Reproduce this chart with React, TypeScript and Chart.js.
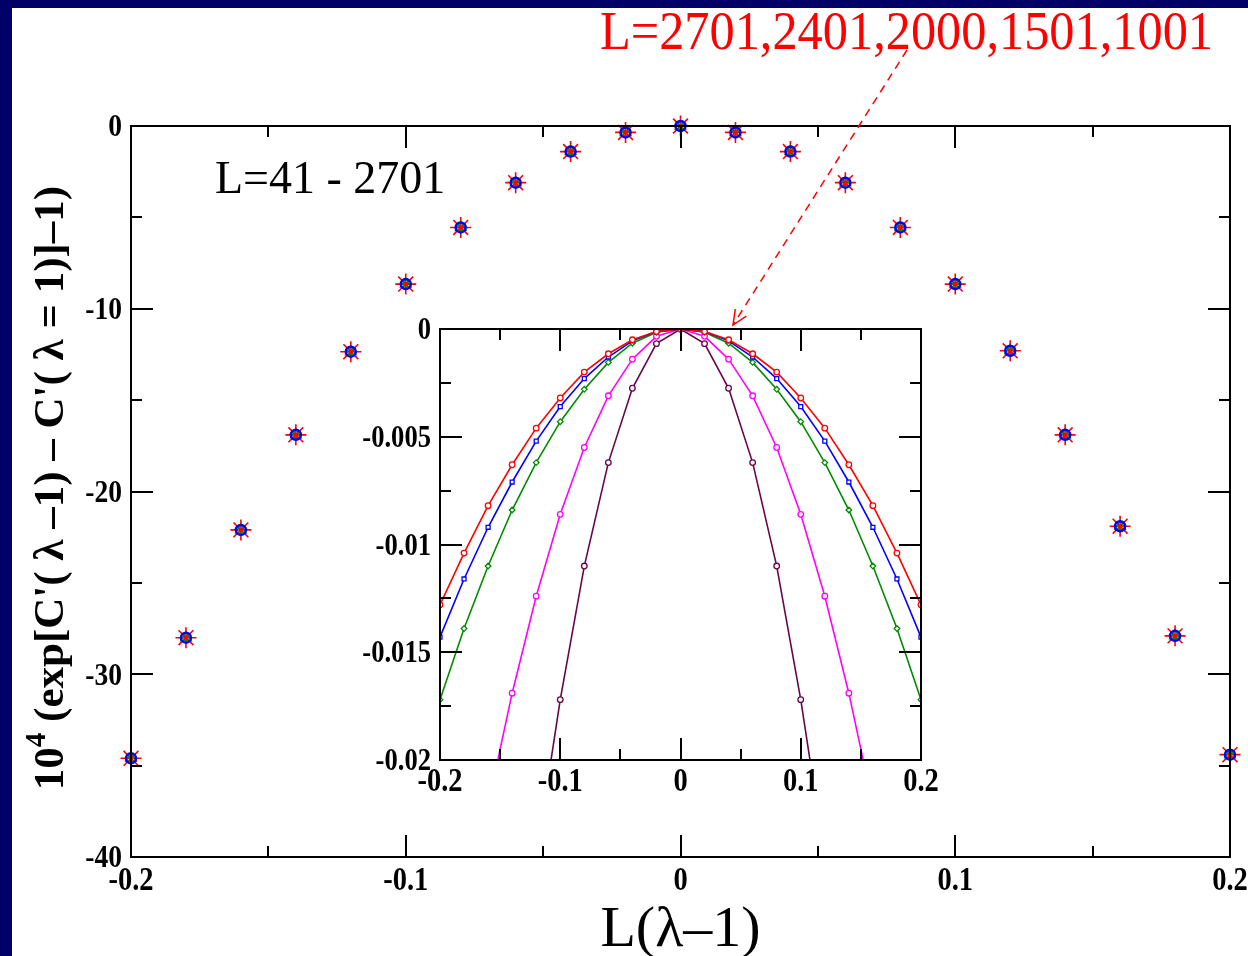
import React, { useEffect, useRef } from "react";
import { Chart, registerables } from "chart.js";

Chart.register(...registerables);

// Scaled coordinate L(lambda - 1), shared by the main plot and the inset
const scaledShift = [
  -0.2, -0.18, -0.16, -0.14, -0.12, -0.1, -0.08, -0.06, -0.04, -0.02, 0,
  0.02, 0.04, 0.06, 0.08, 0.1, 0.12, 0.14, 0.16, 0.18, 0.2,
];

// Main plot: 10^4 (exp[C'(lambda-1) - C'(lambda=1)] - 1), all sizes collapse
const collapsedValues = [
  -34.6, -28.0, -22.1, -16.9, -12.35, -8.65, -5.55, -3.1, -1.4, -0.35, 0,
  -0.35, -1.4, -3.1, -5.55, -8.65, -12.3, -16.9, -21.9, -27.9, -34.4,
];

// Inset: unscaled curves for the five largest sizes
const insetL2701 = [
  -0.0128, -0.0104, -0.0082, -0.0063, -0.0046, -0.0032, -0.002, -0.00115, -0.0005, -0.00012, 0,
  -0.00012, -0.0005, -0.00115, -0.002, -0.0032, -0.0046, -0.0063, -0.0082, -0.0104, -0.0128,
];
const insetL2401 = [
  -0.0143, -0.0116, -0.0092, -0.0071, -0.0052, -0.0036, -0.0023, -0.0013, -0.00055, -0.00012, 0,
  -0.00012, -0.00055, -0.0013, -0.0023, -0.0036, -0.0052, -0.0071, -0.0092, -0.0116, -0.0143,
];
const insetL2000 = [
  -0.0172, -0.0139, -0.011, -0.0084, -0.0062, -0.0043, -0.0028, -0.00155, -0.00066, -0.00015, 0,
  -0.00015, -0.00066, -0.00155, -0.0028, -0.0043, -0.0062, -0.0084, -0.011, -0.0139, -0.0172,
];
const insetL1501 = [
  -0.0344, -0.0279, -0.0221, -0.0169, -0.0124, -0.0086, -0.0055, -0.0031, -0.0014, -0.00034, 0,
  -0.00034, -0.0014, -0.0031, -0.0055, -0.0086, -0.0124, -0.0169, -0.0221, -0.0279, -0.0344,
];
const insetL1001 = [
  -0.0688, -0.0557, -0.044, -0.0337, -0.0245, -0.0172, -0.011, -0.0062, -0.00275, -0.00068, 0,
  -0.00068, -0.00275, -0.0062, -0.011, -0.0172, -0.0245, -0.0337, -0.044, -0.0557, -0.0688,
];

// Tick values and labels
const xMajorTicks = [-0.2, -0.1, 0, 0.1, 0.2];
const xMinorTicks = [-0.15, -0.05, 0.05, 0.15];
const xTickLabels = ["-0.2", "-0.1", "0", "0.1", "0.2"];
const mainYMajorTicks = [0, -10, -20, -30, -40];
const mainYMinorTicks = [-5, -15, -25, -35];
const mainYTickLabels = ["0", "-10", "-20", "-30", "-40"];
const insetYMajorTicks = [0, -0.005, -0.01, -0.015, -0.02];
const insetYMinorTicks = [-0.0025, -0.0075, -0.0125, -0.0175];
const insetYTickLabels = ["0", "-0.005", "-0.01", "-0.015", "-0.02"];

const SERIF = '"Liberation Serif", "Times New Roman", serif';
const NAVY = "#000066";

const toPoints = (ys: number[]) => scaledShift.map((x, i) => ({ x, y: ys[i] }));

type FrameSpec = {
  xMajor: number[];
  xMinor: number[];
  yMajor: number[];
  yMinor: number[];
  xLabels: string[];
  yLabels: string[];
  majorLen: number;
  minorLen: number;
  xFont: string;
  yFont: string;
  xLabelY: number;
  yLabelGap: number;
};

// text drawn with a vertical stretch, as the plotting program's glyphs are taller than wide
function tallText(ctx: any, text: string, x: number, y: number, sx: number, sy: number) {
  ctx.save();
  ctx.translate(x, y);
  ctx.scale(sx, sy);
  ctx.fillText(text, 0, 0);
  ctx.restore();
}

function drawFrame(chart: any, spec: FrameSpec) {
  const { ctx, chartArea: a } = chart;
  const xs = chart.scales.x;
  const ys = chart.scales.y;
  ctx.save();
  ctx.strokeStyle = "#000";
  ctx.lineWidth = 2;
  ctx.beginPath();
  const vTick = (v: number, len: number) => {
    const p = Math.round(xs.getPixelForValue(v));
    ctx.moveTo(p, a.bottom);
    ctx.lineTo(p, a.bottom - len);
    ctx.moveTo(p, a.top);
    ctx.lineTo(p, a.top + len);
  };
  const hTick = (v: number, len: number) => {
    const p = Math.round(ys.getPixelForValue(v));
    ctx.moveTo(a.left, p);
    ctx.lineTo(a.left + len, p);
    ctx.moveTo(a.right, p);
    ctx.lineTo(a.right - len, p);
  };
  spec.xMajor.forEach((v) => vTick(v, spec.majorLen));
  spec.xMinor.forEach((v) => vTick(v, spec.minorLen));
  spec.yMajor.forEach((v) => hTick(v, spec.majorLen));
  spec.yMinor.forEach((v) => hTick(v, spec.minorLen));
  ctx.stroke();
  ctx.strokeRect(a.left, a.top, a.right - a.left, a.bottom - a.top);

  ctx.fillStyle = "#000";
  ctx.font = spec.xFont;
  ctx.textAlign = "center";
  ctx.textBaseline = "alphabetic";
  spec.xMajor.forEach((v, i) => {
    tallText(ctx, spec.xLabels[i], xs.getPixelForValue(v), a.bottom + spec.xLabelY, 0.95, 1.12);
  });
  ctx.font = spec.yFont;
  ctx.textAlign = "right";
  ctx.textBaseline = "middle";
  spec.yMajor.forEach((v, i) => {
    tallText(ctx, spec.yLabels[i], a.left - spec.yLabelGap, ys.getPixelForValue(v) + 2, 0.95, 1.12);
  });
  ctx.restore();
}

const mainDecor = {
  id: "mainDecor",
  beforeDraw(chart: any) {
    const { ctx, width, height } = chart;
    ctx.save();
    ctx.fillStyle = NAVY;
    ctx.fillRect(0, 0, width, height);
    ctx.fillStyle = "#fff";
    ctx.fillRect(12, 8, width - 12, height - 8);
    ctx.restore();
  },
  afterDatasetsDraw(chart: any) {
    const { ctx, chartArea: a } = chart;
    drawFrame(chart, {
      xMajor: xMajorTicks,
      xMinor: xMinorTicks,
      yMajor: mainYMajorTicks,
      yMinor: mainYMinorTicks,
      xLabels: xTickLabels,
      yLabels: mainYTickLabels,
      majorLen: 22,
      minorLen: 11,
      xFont: `bold 30px ${SERIF}`,
      yFont: `bold 29px ${SERIF}`,
      xLabelY: 33,
      yLabelGap: 9,
    });

    ctx.save();
    // axis titles
    ctx.fillStyle = "#000";
    ctx.font = `58px ${SERIF}`;
    ctx.textAlign = "center";
    ctx.textBaseline = "alphabetic";
    ctx.fillText("L(\u03bb\u20131)", (a.left + a.right) / 2, 946);

    ctx.save();
    ctx.translate(63, 488);
    ctx.rotate(-Math.PI / 2);
    const big = `bold 43px ${SERIF}`;
    const sup = `bold 29px ${SERIF}`;
    const rest = " (exp[C'( \u03bb \u20131) \u2013 C'( \u03bb = 1)]\u20131)";
    ctx.font = big;
    const w10 = ctx.measureText("10").width;
    const wRest = ctx.measureText(rest).width;
    ctx.font = sup;
    const w4 = ctx.measureText("4").width;
    const total = w10 + w4 + wRest;
    let x = -total / 2;
    ctx.textAlign = "left";
    ctx.font = big;
    ctx.fillText("10", x, 0);
    x += w10;
    ctx.font = sup;
    ctx.fillText("4", x, -18);
    x += w4;
    ctx.font = big;
    ctx.fillText(rest, x, 0);
    ctx.restore();

    // size range annotation
    ctx.textAlign = "left";
    ctx.font = `46px ${SERIF}`;
    ctx.fillText("L=41 - 2701", 215, 193);

    // label for the inset curves, with a dashed pointer
    ctx.fillStyle = "#ff0000";
    ctx.font = `54px ${SERIF}`;
    const label = "L=2701,2401,2000,1501,1001";
    const lw = ctx.measureText(label).width;
    tallText(ctx, label, 600, 49, 613 / lw, 1.0);

    const x0 = 907, y0 = 50, x1 = 733, y1 = 325;
    ctx.strokeStyle = "#ff0000";
    ctx.lineWidth = 1.5;
    ctx.setLineDash([8, 6]);
    ctx.beginPath();
    ctx.moveTo(x0, y0);
    ctx.lineTo(x1, y1);
    ctx.stroke();
    ctx.setLineDash([]);
    const ang = Math.atan2(y1 - y0, x1 - x0);
    const head = 16;
    const spread = 0.42;
    ctx.beginPath();
    ctx.moveTo(x1 - head * Math.cos(ang - spread), y1 - head * Math.sin(ang - spread));
    ctx.lineTo(x1, y1);
    ctx.lineTo(x1 - head * Math.cos(ang + spread), y1 - head * Math.sin(ang + spread));
    ctx.stroke();
    ctx.restore();
  },
};

const insetDecor = {
  id: "insetDecor",
  beforeDraw(chart: any) {
    const { ctx, chartArea: a } = chart;
    ctx.save();
    ctx.fillStyle = "#fff";
    ctx.fillRect(a.left, a.top, a.right - a.left, a.bottom - a.top);
    ctx.restore();
  },
  afterDatasetsDraw(chart: any) {
    drawFrame(chart, {
      xMajor: xMajorTicks,
      xMinor: xMinorTicks,
      yMajor: insetYMajorTicks,
      yMinor: insetYMinorTicks,
      xLabels: xTickLabels,
      yLabels: insetYTickLabels,
      majorLen: 22,
      minorLen: 11,
      xFont: `bold 30px ${SERIF}`,
      yFont: `bold 28px ${SERIF}`,
      xLabelY: 31,
      yLabelGap: 9,
    });
  },
};

export default function App() {
  const mainRef = useRef<HTMLCanvasElement>(null);
  const insetRef = useRef<HTMLCanvasElement>(null);

  useEffect(() => {
    const mainPts = toPoints(collapsedValues);
    const main = new Chart(mainRef.current as HTMLCanvasElement, {
      type: "scatter",
      data: {
        datasets: [
          {
            data: mainPts,
            pointStyle: "rect",
            pointRadius: 2,
            borderWidth: 1,
            borderColor: "#ff0000",
            backgroundColor: "#ff0000",
            order: 0,
            clip: false,
          },
          {
            data: mainPts,
            pointStyle: "circle",
            pointRadius: 5,
            borderWidth: 2.5,
            borderColor: "#0000ff",
            backgroundColor: "rgba(0,0,0,0)",
            order: 1,
            clip: false,
          },
          {
            data: mainPts,
            pointStyle: "triangle",
            pointRadius: 6,
            borderWidth: 1.5,
            borderColor: "#008b00",
            backgroundColor: "rgba(0,0,0,0)",
            order: 2,
            clip: false,
          },
          {
            data: mainPts,
            pointStyle: "star",
            pointRadius: 10.5,
            borderWidth: 1.6,
            borderColor: "#ff0000",
            backgroundColor: "rgba(0,0,0,0)",
            order: 3,
            clip: false,
          },
        ] as any,
      },
      options: {
        animation: false,
        responsive: false,
        events: [],
        layout: { padding: { left: 131, top: 126, right: 18, bottom: 99 } },
        plugins: { legend: { display: false }, tooltip: { enabled: false } },
        scales: {
          x: { type: "linear", min: -0.2, max: 0.2, display: false },
          y: { type: "linear", min: -40, max: 0, display: false },
        },
      },
      plugins: [mainDecor],
    });

    const mk = (ys: number[], color: string, style: string) => ({
      data: toPoints(ys),
      showLine: true,
      borderColor: color,
      borderWidth: 1.6,
      pointStyle: style,
      pointRadius: 2.8,
      pointBorderWidth: 1.3,
      pointBorderColor: color,
      pointBackgroundColor: "#ffffff",
    });

    const inset = new Chart(insetRef.current as HTMLCanvasElement, {
      type: "scatter",
      data: {
        datasets: [
          mk(insetL2701, "#ff0000", "circle"),
          mk(insetL2401, "#0000ff", "rect"),
          mk(insetL2000, "#008b00", "rectRot"),
          mk(insetL1501, "#ff00ff", "circle"),
          mk(insetL1001, "#670748", "circle"),
        ] as any,
      },
      options: {
        animation: false,
        responsive: false,
        events: [],
        layout: { padding: { left: 100, top: 29, right: 19, bottom: 40 } },
        plugins: { legend: { display: false }, tooltip: { enabled: false } },
        scales: {
          x: { type: "linear", min: -0.2, max: 0.2, display: false },
          y: { type: "linear", min: -0.02, max: 0, display: false },
        },
      },
      plugins: [insetDecor],
    });

    return () => {
      main.destroy();
      inset.destroy();
    };
  }, []);

  return (
    <div
      style={{
        position: "fixed",
        left: 0,
        top: 0,
        width: 1248,
        height: 956,
        overflow: "hidden",
        background: NAVY,
      }}
    >
      <canvas
        ref={mainRef}
        width={1248}
        height={956}
        style={{ position: "absolute", left: 0, top: 0, width: 1248, height: 956 }}
      />
      <canvas
        ref={insetRef}
        width={600}
        height={500}
        style={{ position: "absolute", left: 340, top: 300, width: 600, height: 500 }}
      />
    </div>
  );
}
